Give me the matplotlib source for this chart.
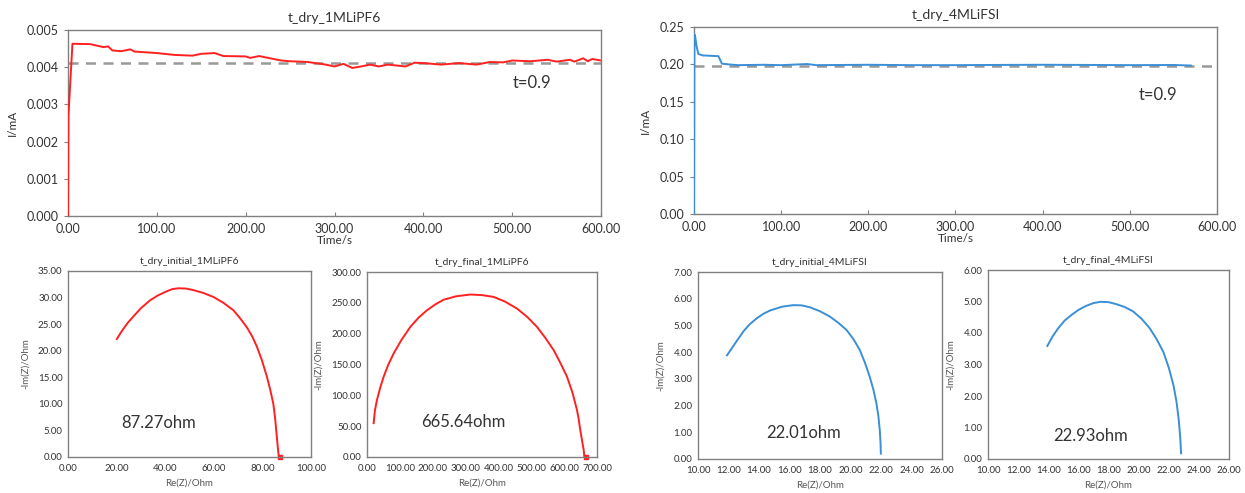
import numpy as np
import matplotlib
matplotlib.use("Agg")
import matplotlib.pyplot as plt
from matplotlib.ticker import FormatStrFormatter, MultipleLocator

plt.rcParams['font.family'] = ['Lato', 'DejaVu Sans']

# chronoamperometry, 1M LiPF6
t_pf6 = [0, 0.5, 5, 25, 40, 45, 50, 60, 70, 75, 100, 120, 140, 150, 165, 175, 200, 205,
         215, 240, 250, 270, 290, 300, 310, 320, 330, 340, 350, 360, 380, 390, 400, 420,
         440, 460, 475, 490, 500, 520, 540, 550, 565, 570, 580, 585, 590, 600]
i_pf6 = [0.0, 0.0027, 0.00463, 0.00462, 0.00454, 0.00456, 0.00445, 0.00443, 0.00448,
         0.00442, 0.00438, 0.00433, 0.00431, 0.00436, 0.00438, 0.0043, 0.00429, 0.00425,
         0.0043, 0.00418, 0.00416, 0.00414, 0.00407, 0.00402, 0.00409, 0.00398, 0.00402,
         0.00407, 0.00402, 0.00407, 0.00402, 0.00412, 0.00411, 0.00407, 0.00411, 0.00407,
         0.00414, 0.00413, 0.00418, 0.00416, 0.0042, 0.00415, 0.0042, 0.00415, 0.00424,
         0.00416, 0.00422, 0.00418]
ss_pf6 = 0.0041

# chronoamperometry, 4M LiFSI
t_fsi = [0, 0.5, 1.5, 3, 5, 10, 28, 30, 32, 40, 50, 80, 100, 130, 140, 200, 250, 300, 350,
         400, 450, 500, 550, 570]
i_fsi = [0.0, 0.240, 0.236, 0.224, 0.214, 0.212, 0.211, 0.206, 0.201, 0.200, 0.199, 0.1995,
         0.199, 0.2005, 0.199, 0.1995, 0.199, 0.199, 0.1993, 0.1995, 0.1993, 0.199, 0.1992,
         0.1985]
ss_fsi = 0.198

# impedance spectra
re_pf6_init = [20.1, 22.0, 24.5, 27.0, 30.0, 33.8, 37.0, 40.7, 43.0, 45.5, 48.5, 51.6, 55.5,
               59.9, 64.0, 68.1, 71.0, 73.6, 75.8, 77.7, 79.8, 81.8, 83.3, 84.5, 85.3, 85.9,
               86.4, 86.7, 87.27]
im_pf6_init = [22.2, 23.6, 25.2, 26.5, 28.0, 29.5, 30.4, 31.2, 31.6, 31.75, 31.7, 31.4, 30.9,
               30.1, 29.0, 27.6, 26.0, 24.4, 22.7, 20.8, 18.2, 15.2, 12.5, 10.0, 7.0, 4.0,
               1.5, 0.3, 0.0]

re_pf6_fin = [20.3, 24, 30.4, 40, 50.7, 65, 81.2, 105, 132, 157, 182.6, 208, 233, 270, 314.5,
              350, 385.5, 420, 456.5, 488, 517.4, 543, 568, 589, 608.7, 625, 639, 644, 649,
              655, 659.4, 661.4, 665.64]
im_pf6_fin = [54.9, 75, 92.6, 112, 130.3, 150, 168, 190, 211, 226, 238, 247.5, 255, 260.5,
              263.5, 262.5, 259.6, 252, 240.7, 227, 211, 193, 173.4, 152, 130.3, 105, 76.5,
              62, 44, 25, 11.8, 1.0, 0.0]

re_fsi_init = [11.9, 12.4, 12.98, 13.4, 13.86, 14.3, 14.73, 15.5, 16.25, 16.8, 17.34, 18.0,
               18.65, 19.2, 19.74, 20.2, 20.61, 20.95, 21.26, 21.5, 21.7, 21.83, 21.92,
               21.97, 21.99]
im_fsi_init = [3.88, 4.3, 4.78, 5.05, 5.27, 5.44, 5.56, 5.70, 5.76, 5.75, 5.68, 5.53, 5.33,
               5.1, 4.83, 4.48, 4.08, 3.6, 3.08, 2.6, 2.08, 1.6, 1.08, 0.6, 0.2]

re_fsi_fin = [13.94, 14.3, 14.66, 15.1, 15.56, 16.0, 16.46, 17.0, 17.48, 18.0, 18.49, 19.05,
              19.62, 20.2, 20.74, 21.2, 21.64, 22.0, 22.32, 22.52, 22.66, 22.76, 22.82]
im_fsi_fin = [3.59, 3.9, 4.15, 4.4, 4.58, 4.73, 4.85, 4.95, 4.99, 4.98, 4.92, 4.83, 4.69,
              4.45, 4.15, 3.8, 3.4, 2.9, 2.33, 1.8, 1.26, 0.7, 0.18]

RED = '#ff2020'
BLUE = '#3a8fd6'
GRAY = '#999999'
SPINE = '#808080'
TXT = '#333333'

W, H = 1245, 493
fig = plt.figure(figsize=(W / 100, H / 100), dpi=100)


def px(x0, y0, x1, y1):
    return [x0 / W, 1 - y1 / H, (x1 - x0) / W, (y1 - y0) / H]


def style(ax, fs, ticklen):
    for s in ax.spines.values():
        s.set_color(SPINE)
        s.set_linewidth(1.0)
    ax.tick_params(axis='x', direction='in', length=ticklen, color=SPINE, labelsize=fs, labelcolor=TXT, pad=5)
    ax.tick_params(axis='y', direction='out', length=ticklen, color=SPINE, labelsize=fs, labelcolor=TXT, pad=4)


# top panels
def ca_panel(rect, t, i, ss, color, title, ymax, ystep, yfmt, tpos):
    ax = fig.add_axes(px(*rect))
    ax.plot(t, i, color=color, lw=1.4, zorder=3)
    ax.axhline(ss, color=GRAY, lw=1.8, ls=(0, (4, 3)), zorder=2)
    ax.set_xlim(0, 600)
    ax.set_ylim(0, ymax)
    ax.xaxis.set_major_locator(MultipleLocator(100))
    ax.yaxis.set_major_locator(MultipleLocator(ystep))
    ax.xaxis.set_major_formatter(FormatStrFormatter('%.2f'))
    ax.yaxis.set_major_formatter(FormatStrFormatter(yfmt))
    style(ax, 9, 3)
    ax.set_title(title, fontsize=10, color=TXT, pad=6)
    ax.set_xlabel('Time/s', fontsize=8.5, color=TXT, labelpad=0)
    ax.set_ylabel('I/mA', fontsize=8.5, color=TXT, labelpad=6)
    ax.text(tpos[0], tpos[1], 't=0.9', fontsize=12, color=TXT, ha='center', va='center')
    return ax


ca_panel((68, 30, 601, 216), t_pf6, i_pf6, ss_pf6, RED, 't_dry_1MLiPF6',
         0.005, 0.001, '%.3f', (522, 0.00358))
ca_panel((694, 27, 1217, 214), t_fsi, i_fsi, ss_fsi, BLUE, 't_dry_4MLiFSI',
         0.25, 0.05, '%.2f', (532, 0.159))


# bottom panels
def eis_panel(rect, re, im, color, title, xlim, xstep, ylim, ystep, label, lpos, endmark):
    ax = fig.add_axes(px(*rect))
    ax.plot(re, im, color=color, lw=1.4)
    if endmark:
        ax.plot(re[-1], im[-1], 's', color=color, ms=3, clip_on=False)
    ax.set_xlim(*xlim)
    ax.set_ylim(*ylim)
    ax.xaxis.set_major_locator(MultipleLocator(xstep))
    ax.yaxis.set_major_locator(MultipleLocator(ystep))
    ax.xaxis.set_major_formatter(FormatStrFormatter('%.2f'))
    ax.yaxis.set_major_formatter(FormatStrFormatter('%.2f'))
    style(ax, 7, 0)
    ax.set_title(title, fontsize=7.5, color=TXT, pad=5)
    ax.set_xlabel('Re(Z)/Ohm', fontsize=7, color='#555555', labelpad=4)
    ax.set_ylabel('-Im(Z)/Ohm', fontsize=7, color='#555555', labelpad=6)
    ax.text(lpos[0], lpos[1], label, fontsize=12, color=TXT, ha='center', va='center')
    return ax


eis_panel((68, 271, 311, 457), re_pf6_init, im_pf6_init, RED, 't_dry_initial_1MLiPF6',
          (0, 100), 20, (0, 35), 5, '87.27ohm', (37.3, 6.4), True)
eis_panel((367, 272, 597, 457), re_pf6_fin, im_pf6_fin, RED, 't_dry_final_1MLiPF6',
          (0, 700), 100, (0, 300), 50, '665.64ohm', (294, 56), True)
eis_panel((698, 272, 942, 459), re_fsi_init, im_fsi_init, BLUE, 't_dry_initial_4MLiFSI',
          (10, 26), 2, (0, 7), 1, '22.01ohm', (16.9, 0.98), False)
eis_panel((988, 270, 1229, 459), re_fsi_fin, im_fsi_fin, BLUE, 't_dry_final_4MLiFSI',
          (10, 26), 2, (0, 6), 1, '22.93ohm', (16.8, 0.74), False)

fig.savefig('out.png', dpi=100)
